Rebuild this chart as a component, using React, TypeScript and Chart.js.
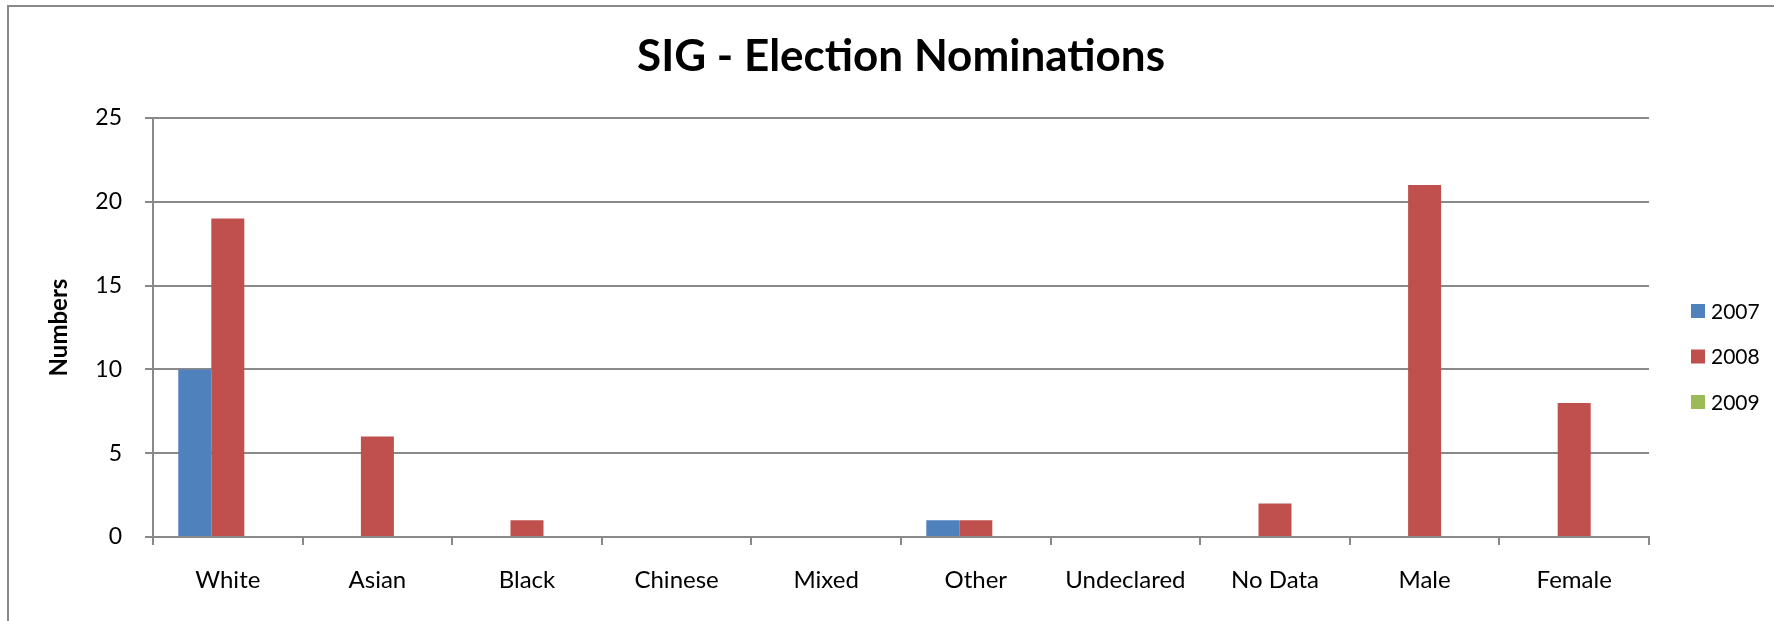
import React, { useEffect, useRef } from "react";
import { Chart, registerables } from "chart.js";

Chart.register(...registerables);

// ---- data ----
const categories = ["White", "Asian", "Black", "Chinese", "Mixed", "Other", "Undeclared", "No Data", "Male", "Female"];
const series2007 = [10, 0, 0, 0, 0, 1, 0, 0, 0, 0];
const series2008 = [19, 6, 1, 0, 0, 1, 0, 2, 21, 8];
const series2009 = [0, 0, 0, 0, 0, 0, 0, 0, 0, 0];
const seriesLabels = ["2007", "2008", "2009"];
const seriesColors = ["#4F81BD", "#C0504D", "#9BBB59"];
const yMin = 0;
const yMax = 25;
const yStep = 5;
const chartTitle = "SIG - Election Nominations";
const yAxisTitle = "Numbers";

// ---- layout ----
const W = 1774;
const H = 621;
const PLOT_LEFT = 153;
const PLOT_RIGHT = 1649;
const PLOT_BOTTOM = 537;
const PAD_LEFT = 20;
const FONT = "Lato, 'Open Sans', sans-serif";
const GRID = "#898989";

const frame = {
  id: "frame",
  beforeDraw(chart: any) {
    const ctx = chart.ctx;
    ctx.save();
    ctx.fillStyle = "#ffffff";
    ctx.fillRect(0, 0, W, H);
    ctx.strokeStyle = GRID;
    ctx.lineWidth = 2;
    ctx.beginPath();
    ctx.moveTo(8, H);
    ctx.lineTo(8, 6);
    ctx.lineTo(W, 6);
    ctx.stroke();
    ctx.restore();
  },
};

const sideLegend = {
  id: "sideLegend",
  afterDraw(chart: any) {
    const ctx = chart.ctx;
    const x0 = chart.chartArea.right + 42;
    const yStart = 311;
    const gap = 45.5;
    ctx.save();
    ctx.font = `21px ${FONT}`;
    ctx.textBaseline = "middle";
    ctx.textAlign = "left";
    chart.data.datasets.forEach((ds: any, i: number) => {
      const y = yStart + i * gap;
      ctx.fillStyle = ds.backgroundColor;
      ctx.fillRect(x0, y - 7, 14, 14);
      ctx.fillStyle = "#000000";
      ctx.fillText(ds.label, x0 + 20, y + 1);
    });
    ctx.restore();
  },
};

export default function App() {
  const ref = useRef<HTMLCanvasElement | null>(null);

  useEffect(() => {
    document.body.style.margin = "0";
    if (!ref.current) return;
    const values = [series2007, series2008, series2009];
    const chart = new Chart(ref.current, {
      type: "bar",
      data: {
        labels: categories,
        datasets: seriesLabels.map((label, i) => ({
          label,
          data: values[i],
          backgroundColor: seriesColors[i],
          borderWidth: 0,
          categoryPercentage: 0.662,
          barPercentage: 1,
        })),
      },
      options: {
        responsive: false,
        animation: false,
        devicePixelRatio: 1,
        layout: { padding: { left: PAD_LEFT, right: W - PLOT_RIGHT, top: 0, bottom: 0 } },
        plugins: {
          legend: { display: false },
          tooltip: { enabled: false },
          title: {
            display: true,
            text: chartTitle,
            fullSize: false,
            color: "#000000",
            font: { family: FONT, size: 44, weight: "bold", lineHeight: 1.2 },
            padding: { top: 30, bottom: 35.2 },
          },
        },
        scales: {
          x: {
            grid: {
              display: true,
              drawOnChartArea: false,
              drawTicks: true,
              tickLength: 8,
              color: GRID,
              lineWidth: 2,
              offset: true,
            },
            border: { display: true, color: GRID, width: 2 },
            ticks: {
              color: "#000000",
              font: { family: FONT, size: 24 },
              padding: 21,
              autoSkip: false,
              maxRotation: 0,
            },
            afterFit(scale: any) {
              scale.height = H - PLOT_BOTTOM;
            },
          },
          y: {
            min: yMin,
            max: yMax,
            ticks: {
              stepSize: yStep,
              color: "#000000",
              font: { family: FONT, size: 23 },
              padding: 23,
            },
            grid: {
              color: GRID,
              lineWidth: 2,
              tickLength: 8,
              drawTicks: true,
            },
            border: { display: true, color: GRID, width: 2 },
            title: {
              display: true,
              text: yAxisTitle,
              color: "#000000",
              font: { family: FONT, size: 24, weight: "bold", lineHeight: 1.2 },
              padding: { top: 25, bottom: 0 },
            },
            afterFit(scale: any) {
              scale.width = PLOT_LEFT - PAD_LEFT;
            },
          },
        },
      },
      plugins: [frame, sideLegend],
    });
    return () => chart.destroy();
  }, []);

  return (
    <div style={{ width: W, height: H, position: "relative", overflow: "hidden" }}>
      <canvas ref={ref} width={W} height={H} style={{ display: "block", width: W, height: H }} />
    </div>
  );
}
